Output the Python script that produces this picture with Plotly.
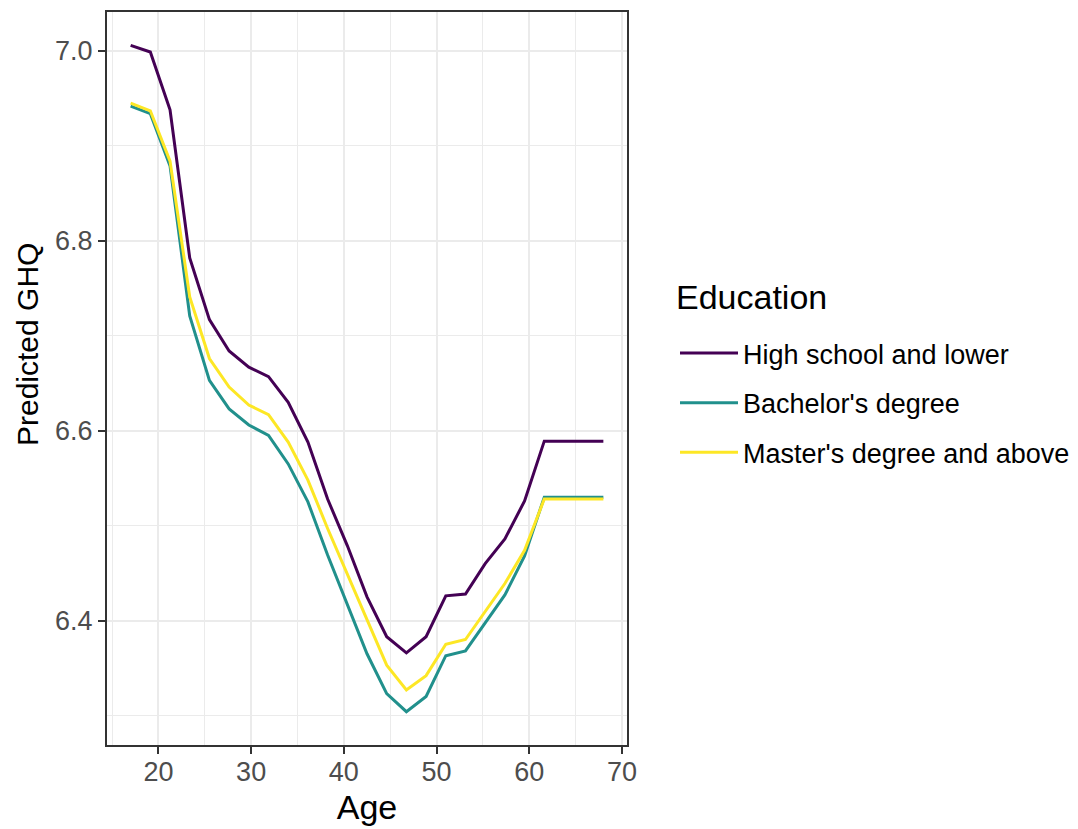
import plotly.graph_objects as go

age = [17, 19.125, 21.25, 23.375, 25.5, 27.625, 29.75, 31.875, 34, 36.125,
       38.25, 40.375, 42.5, 44.625, 46.75, 48.875, 51, 53.125, 55.25, 57.375,
       59.5, 61.625, 63.75, 65.875, 68]

high_school = [7.006, 6.999, 6.938, 6.782, 6.717, 6.684, 6.667, 6.657, 6.630, 6.588,
               6.528, 6.479, 6.425, 6.383, 6.366, 6.383, 6.426, 6.428, 6.460, 6.486,
               6.526, 6.589, 6.589, 6.589, 6.589]

bachelor = [6.942, 6.934, 6.879, 6.721, 6.653, 6.623, 6.606, 6.595, 6.565, 6.525,
            6.469, 6.416, 6.365, 6.323, 6.304, 6.320, 6.363, 6.368, 6.398, 6.427,
            6.468, 6.530, 6.530, 6.530, 6.530]

master = [6.945, 6.937, 6.884, 6.741, 6.676, 6.646, 6.627, 6.617, 6.588, 6.548,
          6.497, 6.448, 6.401, 6.353, 6.327, 6.342, 6.375, 6.380, 6.410, 6.439,
          6.474, 6.528, 6.528, 6.528, 6.528]

series_names = ["High school and lower", "Bachelor's degree", "Master's degree and above"]
series_values = [high_school, bachelor, master]
series_colors = ["#440154", "#21908C", "#FDE725"]

x_ticks = [20, 30, 40, 50, 60, 70]
x_minor = [15, 25, 35, 45, 55, 65]
y_ticks = [6.4, 6.6, 6.8, 7.0]
y_minor = [6.3, 6.5, 6.7, 6.9]

FONT = "Liberation Sans, Arial, sans-serif"

# panel geometry in pixels
W, H = 1078, 829
PL, PR, PT, PB = 107, 627, 12, 745
PW, PH = PR - PL, PB - PT

fig = go.Figure()
for i, (name, vals, col) in enumerate(zip(series_names, series_values, series_colors)):
    fig.add_trace(go.Scatter(x=age, y=vals, mode="lines", name=name,
                             legendgroup=str(i),
                             line=dict(color=col, width=3)))

# ggplot-like 5% expansion
xmin, xmax = min(age), max(age)
allv = high_school + bachelor + master
ymin, ymax = min(allv), max(allv)
xpad = (xmax - xmin) * 0.05
ypad = (ymax - ymin) * 0.05

axis_common = dict(
    showline=True, mirror=True, linecolor="#333333", linewidth=2,
    ticks="outside", ticklen=7, tickwidth=2, tickcolor="#333333",
    tickfont=dict(family=FONT, size=27, color="#4D4D4D"),
    showgrid=True, gridcolor="#EBEBEB", gridwidth=2, zeroline=False,
)

fig.update_xaxes(range=[xmin - xpad, xmax + xpad], tickvals=x_ticks,
                 ticklabelstandoff=-5,
                 minor=dict(tickvals=x_minor, showgrid=True, gridcolor="#EBEBEB",
                            gridwidth=1, ticks=""),
                 title=dict(text="Age", font=dict(family=FONT, size=34, color="black"),
                            standoff=9),
                 **axis_common)
fig.update_yaxes(range=[ymin - ypad, ymax + ypad], tickvals=y_ticks, tickformat=".1f",
                 minor=dict(tickvals=y_minor, showgrid=True, gridcolor="#EBEBEB",
                            gridwidth=1, ticks=""),
                 **axis_common)

fig.add_annotation(text="Predicted GHQ", textangle=-90, xref="paper", yref="paper",
                   x=(27 - PL) / PW, y=(PB - 345) / PH, xanchor="center", yanchor="middle",
                   showarrow=False, font=dict(family=FONT, size=30, color="black"))

fig.add_annotation(text="Education", xref="paper", yref="paper",
                   x=(674 - PL) / PW, y=(PB - 297) / PH, xanchor="left", yanchor="middle",
                   showarrow=False, font=dict(family=FONT, size=34, color="black"))

fig.update_layout(
    width=W, height=H,
    margin=dict(l=PL, r=W - PR, t=PT, b=H - PB, autoexpand=False),
    plot_bgcolor="white", paper_bgcolor="white",
    font=dict(family=FONT),
    legend=dict(
        x=(675 - PL) / PW, y=(PB - 403) / PH, xanchor="left", yanchor="middle",
        font=dict(family=FONT, size=27, color="black"),
        traceorder="grouped", tracegroupgap=11.5, itemwidth=58,
        bgcolor="rgba(0,0,0,0)",
    ),
)

fig.write_html("out.html", config={"displayModeBar": False},
               post_script="document.body.style.margin='0';")
